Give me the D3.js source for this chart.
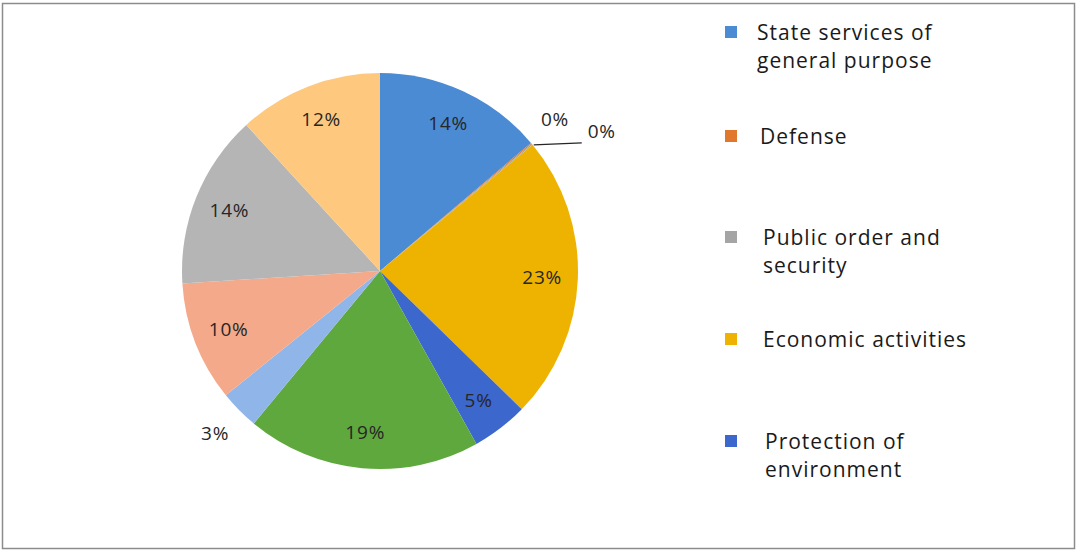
<!DOCTYPE html>
<html>
<head>
<meta charset="utf-8">
<script src="https://cdn.jsdelivr.net/npm/d3@7"></script>
<style>
  body { margin: 0; background: #fff; }
  svg { display: block; font-family: "Open Sans", sans-serif; }
  .label { font-size: 19px; letter-spacing: 0.8px; fill: #262626; }
  .legend text { font-size: 21px; letter-spacing: 1px; fill: #1a1a1a; }
</style>
</head>
<body>
<svg width="1079" height="552"></svg>
<script>
// slices, clockwise from 12 o'clock (in %)
const slices = ["State services of general purpose", "Defense", "Public order and security",
    "Economic activities", "Protection of environment", "Housing and communal services",
    "Health", "Culture and sport", "Education", "Social protection"];
const values = [13.8, 0.1, 0.1, 23.3, 4.6, 19.1, 3.2, 9.8, 14.2, 11.8];
const colors = ["#4b8bd4", "#e0772d", "#a5a5a5", "#eeb300", "#3c67cc", "#5ea83d",
    "#90b5e8", "#f4a98a", "#b5b5b5", "#fec97e"];

// legend only shows the first five entries (rest is cut off)
const legendItems = [
    ["State services of", "general purpose"],
    ["Defense"],
    ["Public order and", "security"],
    ["Economic activities"],
    ["Protection of", "environment"]
];

const svg = d3.select("svg"),
    cx = 380,
    cy = 271,
    r = 198;

svg.append("rect")
    .attr("x", 2.5).attr("y", 3.5)
    .attr("width", 1072).attr("height", 545)
    .attr("fill", "#fff")
    .attr("stroke", "#8c8c8c")
    .attr("stroke-width", 1.5);

const total = d3.sum(values);
const pie = d3.pie().sort(null).value(d => d)(values);
const arc = d3.arc().innerRadius(0).outerRadius(r);
const inner = d3.arc().innerRadius(r * 0.82).outerRadius(r * 0.82);
const outer = d3.arc().innerRadius(r * 1.17).outerRadius(r * 1.17);

const g = svg.append("g").attr("transform", "translate(" + cx + "," + cy + ")");

g.selectAll("path")
    .data(pie)
    .enter().append("path")
    .attr("d", arc)
    .attr("fill", (d, i) => colors[i]);

let zeros = 0;
pie.forEach(function(d, i) {
    const pct = Math.round(d.value / total * 100) + "%";
    let p;
    if (d.value >= 4) {
        p = inner.centroid(d);
    } else if (d.value >= 1) {
        p = outer.centroid(d);
    } else {
        // tiny slices: first sits just outside, second gets pushed right with a leader
        const edge = [Math.sin(d.startAngle) * r, -Math.cos(d.startAngle) * r];
        if (zeros === 0) {
            p = [edge[0] + 24, edge[1] - 24];
        } else {
            g.append("line")
                .attr("x1", edge[0] + 2).attr("y1", edge[1] + 1)
                .attr("x2", edge[0] + 50).attr("y2", edge[1] - 1)
                .attr("stroke", "#262626").attr("stroke-width", 1.2);
            p = [edge[0] + 70, edge[1] - 12];
        }
        zeros++;
    }
    g.append("text")
        .attr("class", "label")
        .attr("x", p[0])
        .attr("y", p[1])
        .attr("dy", "0.35em")
        .attr("text-anchor", "middle")
        .text(pct);
});

const ys = [32, 136, 237, 339, 441];
const xs = [757, 760, 763, 763, 765];
const legend = svg.append("g").attr("class", "legend");
legendItems.forEach(function(lines, i) {
    legend.append("rect")
        .attr("x", 725).attr("y", ys[i] - 6)
        .attr("width", 12).attr("height", 12)
        .attr("fill", colors[i]);
    lines.forEach(function(t, j) {
        legend.append("text")
            .attr("x", xs[i])
            .attr("y", ys[i] + 8 + j * 28)
            .text(t);
    });
});
</script>
</body>
</html>
